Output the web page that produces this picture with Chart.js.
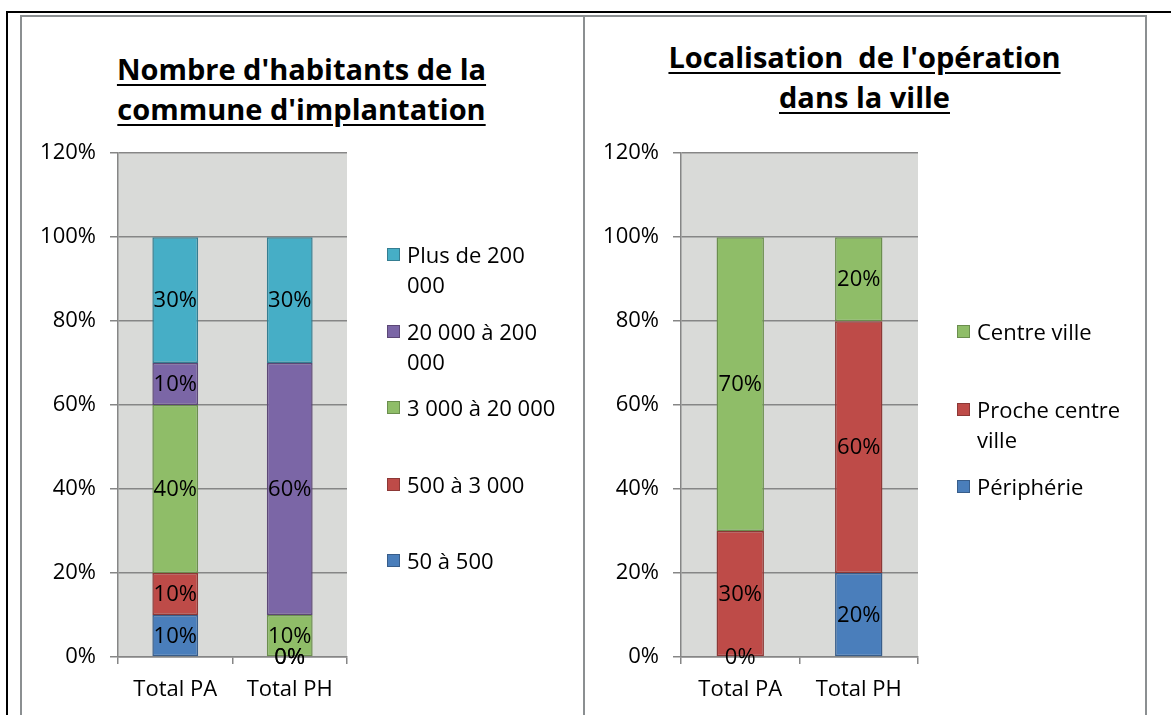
<!DOCTYPE html>
<html>
<head>
<meta charset="utf-8">
<script src="https://cdn.jsdelivr.net/npm/chart.js@4.4.1/dist/chart.umd.min.js"></script>
<style>
  body { margin: 0; background: #fff; font-family: 'Open Sans', sans-serif; }
  #page { position: relative; width: 1171px; height: 715px; overflow: hidden; }
  .rule { position: absolute; background: #000; }
  .frame { position: absolute; border: 2px solid #8b8f91; border-bottom: none; box-sizing: border-box; }
  .title { position: absolute; text-align: center; font-weight: bold; font-size: 29px;
           line-height: 40px; text-decoration: underline; text-underline-offset: 4px; color: #000; }
  canvas { position: absolute; }
  .legend { position: absolute; font-size: 22px; line-height: 30px; color: #000; }
  .legend .item { position: absolute; left: 0; }
  .legend .box { position: absolute; left: 0; top: 9px; width: 13px; height: 13px; box-sizing: border-box; border: 1px solid; }
  .legend .txt { position: absolute; left: 20px; top: 0; width: 160px; }
</style>
</head>
<body>
<div id="page">
  <div class="rule" style="left:6px;top:11px;width:1165px;height:2px"></div>
  <div class="rule" style="left:6px;top:11px;width:2px;height:704px"></div>
  <div class="frame" style="left:20px;top:15px;width:565px;height:720px"></div>
  <div class="frame" style="left:583px;top:15px;width:564px;height:720px"></div>

  <div class="title" style="left:20px;top:49px;width:563px">Nombre d'habitants de la<br>commune d'implantation</div>
  <div class="title" style="left:583px;top:37px;width:563px">Localisation&nbsp; de l'opération<br>dans la ville</div>

  <!-- chart area lands at y 153..657 (Chart.js keeps ~27px above it for the top tick label) -->
  <canvas id="habChart" width="380" height="589" style="left:20px;top:126px"></canvas>
  <canvas id="locChart" width="380" height="589" style="left:583px;top:126px"></canvas>

  <div class="legend" id="habLegend" style="left:387px;top:239px"></div>
  <div class="legend" id="locLegend" style="left:957px;top:316px"></div>
</div>

<script>
// ---------------------------------------------------------------------------
// Data (percent values)
// ---------------------------------------------------------------------------
const categories = ['Total PA', 'Total PH'];
const yTicks = [0, 20, 40, 60, 80, 100, 120];

// Nombre d'habitants de la commune d'implantation (stacked bottom -> top)
const habSeries = ['50 à 500', '500 à 3 000', '3 000 à 20 000', '20 000 à 200 000', 'Plus de 200 000'];
const hab50 = [10, 0];
const hab500 = [10, 0];
const hab3000 = [40, 10];
const hab20000 = [10, 60];
const hab200000 = [30, 30];

// Localisation de l'opération dans la ville (stacked bottom -> top)
const locSeries = ['Périphérie', 'Proche centre ville', 'Centre ville'];
const locPeripherie = [0, 20];
const locProche = [30, 60];
const locCentre = [70, 20];

// Excel 2010 style palette
const fills = { blue: '#4a7ebb', red: '#be4b48', green: '#8fbd68', purple: '#7b66a6', aqua: '#46aec6' };
const edges = { blue: '#385d8a', red: '#8c3836', green: '#6b8e4e', purple: '#5c4776', aqua: '#357d91' };

const FONT = "'Open Sans', sans-serif";
const GRID = '#868686';

// plot background + centered value labels
const plotBg = {
  id: 'plotBg',
  beforeDraw(chart) {
    const a = chart.chartArea, c = chart.ctx;
    c.save();
    c.fillStyle = '#d9dad8';
    c.fillRect(a.left, a.top, a.right - a.left, a.bottom - a.top);
    c.restore();
  }
};

const valueLabels = {
  id: 'valueLabels',
  afterDatasetsDraw(chart) {
    const c = chart.ctx;
    c.save();
    c.font = '22px ' + FONT;
    c.fillStyle = '#000';
    c.textAlign = 'center';
    c.textBaseline = 'middle';
    chart.data.datasets.forEach((ds, i) => {
      chart.getDatasetMeta(i).data.forEach((bar, j) => {
        const p = bar.getProps(['x', 'y', 'base'], true);
        c.fillText(ds.data[j] + '%', p.x, (p.y + p.base) / 2 + 1);
      });
    });
    c.restore();
  }
};

function makeChart(id, series, values, colorKeys, padRight) {
  const datasets = series.map((name, i) => ({
    label: name,
    data: values[i],
    backgroundColor: fills[colorKeys[i]],
    borderColor: edges[colorKeys[i]],
    borderWidth: values[i].map(v => (v === 0 ? 0 : 1.5)),
    borderSkipped: false,
    categoryPercentage: 1,
    barPercentage: 0.4
  }));

  return new Chart(document.getElementById(id), {
    type: 'bar',
    data: { labels: categories, datasets },
    options: {
      responsive: false,
      animation: false,
      layout: { padding: { top: 19, right: padRight, left: 0, bottom: 0 } },
      plugins: { legend: { display: false }, tooltip: { enabled: false } },
      scales: {
        x: {
          stacked: true,
          grid: { drawOnChartArea: false, color: GRID, tickLength: 7, lineWidth: 1.5 },
          border: { color: GRID, width: 1.5 },
          ticks: { color: '#000', font: { family: FONT, size: 22 }, padding: 13 },
          afterFit: s => { s.height = 58; }
        },
        y: {
          stacked: true,
          min: yTicks[0],
          max: yTicks[yTicks.length - 1],
          grid: { color: GRID, tickLength: 8, lineWidth: 1.5 },
          border: { color: GRID, width: 1.5 },
          ticks: {
            stepSize: yTicks[1] - yTicks[0],
            color: '#000',
            font: { family: FONT, size: 22 },
            padding: 14,
            callback: v => v + '%'
          },
          afterFit: s => { s.width = 98; }
        }
      }
    },
    plugins: [plotBg, valueLabels]
  });
}

function makeLegend(id, series, colorKeys, step) {
  const el = document.getElementById(id);
  // Excel lists the top of the stack first
  for (let i = series.length - 1, k = 0; i >= 0; i--, k++) {
    const item = document.createElement('div');
    item.className = 'item';
    item.style.top = (k * step) + 'px';
    item.innerHTML = '<div class="box" style="background:' + fills[colorKeys[i]] +
      ';border-color:' + edges[colorKeys[i]] + '"></div><div class="txt">' + series[i] + '</div>';
    el.appendChild(item);
  }
}

const habColors = ['blue', 'red', 'green', 'purple', 'aqua'];
const locColors = ['blue', 'red', 'green'];

makeChart('habChart', habSeries, [hab50, hab500, hab3000, hab20000, hab200000], habColors, 53);
makeChart('locChart', locSeries, [locPeripherie, locProche, locCentre], locColors, 45);
makeLegend('habLegend', habSeries, habColors, 76.5);
makeLegend('locLegend', locSeries, locColors, 77.5);
</script>
</body>
</html>
